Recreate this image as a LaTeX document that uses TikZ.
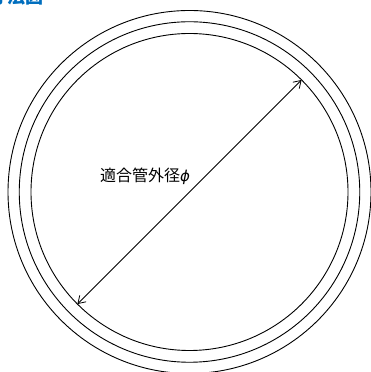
\documentclass[tikz,border=0pt]{standalone}
\usepackage{fontspec}
\usepackage{xcolor}
\usetikzlibrary{arrows.meta}
\newfontfamily\cjk{Noto Sans CJK JP}
\newfontfamily\phifont{DejaVu Sans}
\definecolor{titleblue}{RGB}{0,110,190}
\begin{document}
\begin{tikzpicture}[x=1pt, y=1pt, >={Straight Barb[length=7pt,width=9pt]}, ring node/.style={circle, draw, line width=0.9pt, inner sep=0pt, outer sep=0pt}, text node/.style={inner sep=0pt, font=\cjk\fontsize{16}{16}\selectfont}]
\useasboundingbox (0,0) rectangle (370,372);
\node[ring node, minimum size=363pt] (outer) at (189.5,180) {};
\node[ring node, minimum size=340.5pt] (middle) at (189.5,180) {};
\node[ring node, minimum size=317pt] (inner) at (189.5,180) {};
\node[text node, anchor=base east, text=titleblue, font=\cjk\bfseries\fontsize{18}{18}\selectfont] (title) at (44,368) {寸法図};
\node[text node, anchor=base west] (label) at (100,190.5) {適合管外径{\phifont\itshape\fontsize{15}{15}\selectfont ϕ}};
\draw[<->, line width=0.8pt] (inner.225) -- (inner.45);
\end{tikzpicture}
\end{document}
